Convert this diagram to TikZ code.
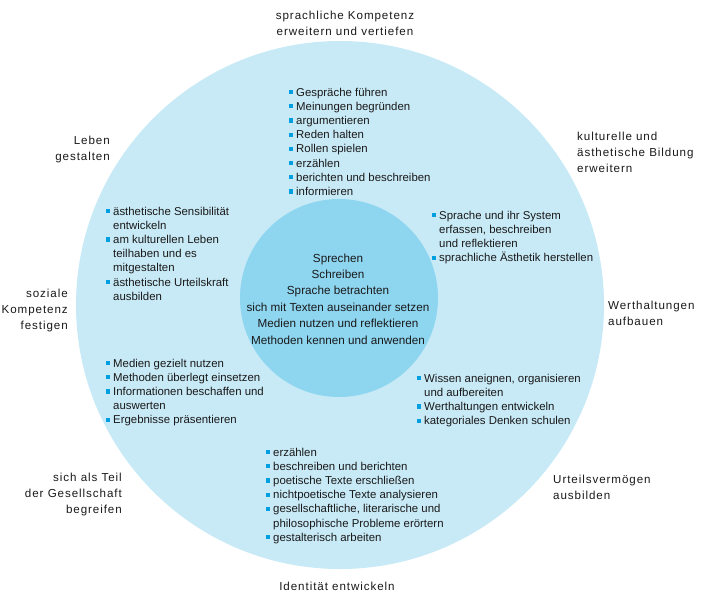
\documentclass[tikz,border=0pt]{standalone}
\usepackage{fontspec}
\setmainfont{Liberation Sans}
\definecolor{outerc}{RGB}{200,234,246}
\definecolor{innerc}{RGB}{142,213,240}
\definecolor{bulc}{RGB}{0,160,224}
\definecolor{txtc}{RGB}{25,25,25}
\newcommand\bi{\makebox[7pt][l]{\textcolor{bulc}{\rule[2pt]{4.2pt}{4.2pt}}}}
\newcommand\bc{\hspace*{7pt}}
\begin{document}
\begin{tikzpicture}[x=1pt,y=-1pt,
  lst/.style={inner sep=0pt,align=left,anchor=north west,text=txtc,font=\fontsize{11.4}{14.2}\selectfont},
  ctr/.style={inner sep=0pt,text=txtc,align=center,font=\fontsize{11.7}{16.4}\selectfont},
  lbl/.style={inner sep=0pt,text=txtc,font=\fontsize{11.6}{16.4}\selectfont\addfontfeature{LetterSpace=8}}]
\useasboundingbox (0,0) rectangle (703,600);
\fill[outerc] (340,305) circle[radius=264];
\fill[innerc] (339,298) circle[radius=99];
\node[ctr] (core) at (338,299) {Sprechen\\Schreiben\\Sprache betrachten\\sich mit Texten auseinander setzen\\Medien nutzen und reflektieren\\Methoden kennen und anwenden};
% lists
\node[lst] (top) at (289,86) {\strut\bi Gespräche führen\\\bi Meinungen begründen\\\bi argumentieren\\\bi Reden halten\\\bi Rollen spielen\\\bi erzählen\\\bi berichten und beschreiben\\\bi informieren};
\node[lst] (lu) at (106,205) {\strut\bi ästhetische Sensibilität\\\bc entwickeln\\\bi am kulturellen Leben\\\bc teilhaben und es\\\bc mitgestalten\\\bi ästhetische Urteilskraft\\\bc ausbilden};
\node[lst] (ru) at (432,209) {\strut\bi Sprache und ihr System\\\bc erfassen, beschreiben\\\bc und reflektieren\\\bi sprachliche Ästhetik herstellen};
\node[lst] (ll) at (106,357) {\strut\bi Medien gezielt nutzen\\\bi Methoden überlegt einsetzen\\\bi Informationen beschaffen und\\\bc auswerten\\\bi Ergebnisse präsentieren};
\node[lst] (rl) at (417,372) {\strut\bi Wissen aneignen, organisieren\\\bc und aufbereiten\\\bi Werthaltungen entwickeln\\\bi kategoriales Denken schulen};
\node[lst] (bot) at (266,446) {\strut\bi erzählen\\\bi beschreiben und berichten\\\bi poetische Texte erschließen\\\bi nichtpoetische Texte analysieren\\\bi gesellschaftliche, literarische und\\\bc philosophische Probleme erörtern\\\bi gestalterisch arbeiten};
% outer labels
\node[lbl,align=center,anchor=north] (ltop) at (345,7.5) {\strut sprachliche Kompetenz\\erweitern und vertiefen};
\node[lbl,align=right,anchor=north east] (lleben) at (110,132.5) {\strut Leben\\gestalten};
\node[lbl,align=right,anchor=north east] (lsoz) at (68,285.5) {\strut soziale\\Kompetenz\\festigen};
\node[lbl,align=right,anchor=north east] (lges) at (122,469.5) {\strut sich als Teil\\der Gesellschaft\\begreifen};
\node[lbl,align=center,anchor=north] (lid) at (337,578.5) {\strut Identität entwickeln};
\node[lbl,align=left,anchor=north west] (lurt) at (553,471.5) {\strut Urteilsvermögen\\ausbilden};
\node[lbl,align=left,anchor=north west] (lwert) at (608,297.5) {\strut Werthaltungen\\aufbauen};
\node[lbl,align=left,anchor=north west] (lkul) at (577,128.5) {\strut kulturelle und\\ästhetische Bildung\\erweitern};
\end{tikzpicture}
\end{document}
